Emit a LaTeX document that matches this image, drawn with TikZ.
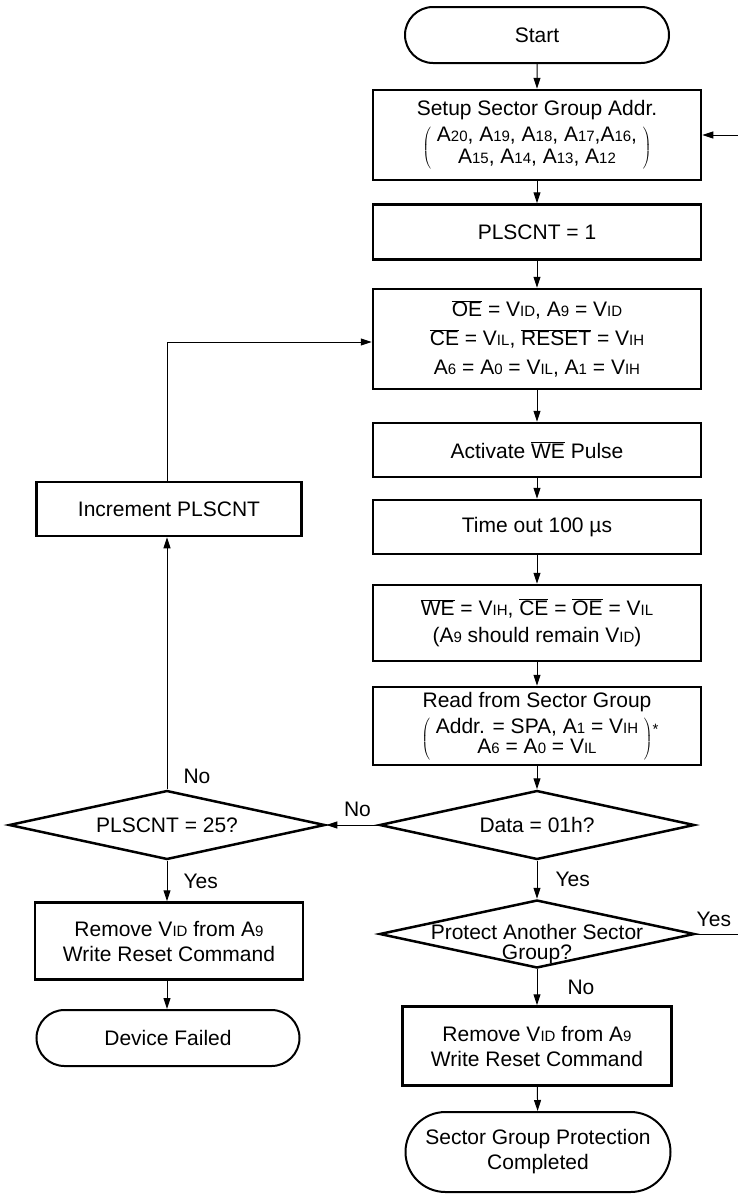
\documentclass[tikz,border=0pt]{standalone}
\usepackage{fontspec}
\setmainfont{Liberation Sans}
\usepackage{tikz}
\usetikzlibrary{arrows.meta, shapes.geometric, shapes.misc}
\newcommand{\lo}[1]{{\fontsize{15}{15}\selectfont #1}}
\newcommand{\ovl}[1]{$\overline{\mbox{#1}}$}
\newcommand{\pgrp}[2][0.88]{$\left(\;\renewcommand{\arraystretch}{#1}\begin{tabular}{@{}c@{}}#2\end{tabular}\;\right)$}
\tikzset{
  box/.style={draw, line width=2.5pt, minimum width=328pt, align=center, inner sep=0pt},
  term/.style={draw, rounded rectangle, line width=2pt, align=center, inner sep=0pt},
  dec/.style={draw, diamond, line width=2.5pt, inner sep=0pt, minimum width=315pt, minimum height=69pt},
  lbl/.style={inner sep=2pt},
  arr/.style={-{Triangle[length=11pt,width=7pt]}, line width=1pt}
}

\begin{document}
\begin{tikzpicture}[x=1pt, y=-1pt, font=\fontsize{21}{25}\selectfont]
    \useasboundingbox (0,0) rectangle (738,1197);
    \node[term, minimum width=264pt, minimum height=56pt] (start) at (537,35) {Start};
    \node[box, minimum height=90pt] (setup) at (537,135) {Setup Sector Group Addr.\\[5pt]
      \pgrp{A\lo{20}, A\lo{19}, A\lo{18}, A\lo{17},A\lo{16},\\ A\lo{15}, A\lo{14}, A\lo{13}, A\lo{12}}};
    \node[box, minimum height=55pt] (cnt1) at (537,232) {PLSCNT = 1};
    \node[box, minimum height=100pt] (cond) at (537,339) {\ovl{OE} = V\lo{ID}, A\lo{9} = V\lo{ID}\\[4pt]
      \ovl{CE} = V\lo{IL}, \ovl{RESET} = V\lo{IH}\\[4pt] A\lo{6} = A\lo{0} = V\lo{IL}, A\lo{1} = V\lo{IH}};
    \node[box, minimum height=54pt] (pulse) at (537,450) {Activate \ovl{WE} Pulse};
    \node[box, minimum height=54pt] (wait) at (537,527) {Time out 100 µs};
    \node[box, minimum height=76pt] (check) at (537,623) {\ovl{WE} = V\lo{IH}, \ovl{CE} = \ovl{OE} = V\lo{IL}\\[2pt]
      (A\lo{9} should remain V\lo{ID})};
    \node[box, minimum height=78pt] (read) at (537,726) {Read from Sector Group\\[5pt]
      \pgrp[0.82]{Addr. = SPA, A\lo{1} = V\lo{IH}\\ A\lo{6} = A\lo{0} = V\lo{IL}}\rlap{\raisebox{9pt}{\lo{*}}}};
    \node[dec, label={center:Data = 01h?}] (data) at (537,825) {};
    \node[dec, minimum width=316pt, label={center:PLSCNT = 25?}] (cnt25) at (167,825) {};
    \node[box, minimum width=265pt, minimum height=54pt] (inc) at (169,509) {Increment PLSCNT};
    \node[box, minimum width=268pt, minimum height=77pt] (rmfail) at (169,941) {Remove V\lo{ID} from A\lo{9}\\ Write Reset Command};
    \node[term, minimum width=263pt, minimum height=56pt] (fail) at (168,1038) {Device Failed};
    \node[dec, minimum height=68pt, label={[align=center, font=\fontsize{21}{20}\selectfont, yshift=-10pt]center:Protect Another Sector\\Group?}] (another) at (537,934) {};
    \node[box, minimum width=269pt, minimum height=79pt] (rmok) at (537,1046) {Remove V\lo{ID} from A\lo{9}\\ Write Reset Command};
    \node[term, minimum width=265pt, minimum height=80pt] (done) at (538,1152) {Sector Group Protection\\ Completed};
    \coordinate (edge) at (741,0);

    \draw[arr] (start) -- (setup);
    \draw[arr] (setup) -- (cnt1);
    \draw[arr] (cnt1) -- (cond);
    \draw[arr] (cond) -- (pulse);
    \draw[arr] (pulse) -- (wait);
    \draw[arr] (wait) -- (check);
    \draw[arr] (check) -- (read);
    \draw[arr] (read) -- (data);
    \draw[arr] (data) -- node[lbl, right, xshift=16pt] {Yes} (another);
    \draw[arr] (another) -- node[lbl, right, xshift=28pt] {No} (rmok);
    \draw[arr] (rmok) -- (done);
    \draw[arr] (data.west) -- node[lbl, above, pos=0.4, yshift=6pt] {No} (cnt25.east);
    \draw[arr] (cnt25.south) -- node[lbl, right, xshift=14pt] {Yes} (cnt25.south |- rmfail.north);
    \draw[arr] (cnt25.south |- rmfail.south) -- (cnt25.south |- fail.north);
    \draw[arr] (cnt25.north) -- node[lbl, pos=0.05, anchor=west, xshift=14pt] {No} (cnt25.north |- inc.south);
    \draw[arr] (cnt25.north |- inc.north) |- ([yshift=-3pt]cond.west);
    \draw[arr] (another.east) -- node[lbl, above, pos=0.4, yshift=5pt] {Yes} (another.east -| edge) |- (setup.east);
\end{tikzpicture}
\end{document}
